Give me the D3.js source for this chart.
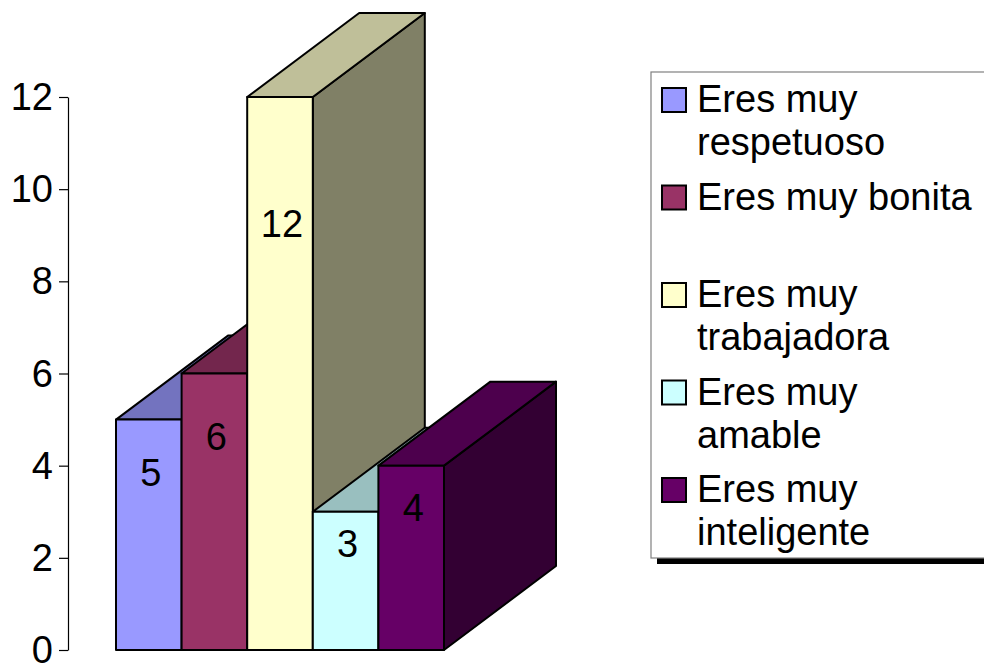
<!DOCTYPE html>
<html>
<head>
<meta charset="utf-8">
<script src="https://cdn.jsdelivr.net/npm/d3@7.9.0/dist/d3.min.js"></script>
<style>
  body { margin: 0; background: #fff; }
  svg { display: block; font-family: "Liberation Sans", Arial, sans-serif; }
</style>
</head>
<body>
<div id="viz"></div>
<script>
// data
const categories = ["Eres muy respetuoso", "Eres muy bonita", "Eres muy trabajadora", "Eres muy amable", "Eres muy inteligente"];
const values = [5, 6, 12, 3, 4];
const barColors = ["#9999FF", "#993366", "#FFFFCC", "#CCFFFF", "#660066"];
const yTicks = [0, 2, 4, 6, 8, 10, 12];

const width = 984;
const height = 667;
const fontSize = 38;

// 3D depth offset of the bars
const depthX = 112;
const depthY = -84;

const svg = d3.select("#viz")
  .append("svg")
  .attr("width", width)
  .attr("height", height);

const x = d3.scaleBand()
  .domain(categories)
  .range([116, 444])
  .paddingInner(0)
  .paddingOuter(0);

const y = d3.scaleLinear()
  .domain([0, 12])
  .range([650, 97]);

// shade a colour like the old 3D charts do (top lighter, side darker)
function shade(c, k) {
  const col = d3.rgb(c);
  return d3.rgb(col.r * k, col.g * k, col.b * k).formatHex();
}

// y axis
const axis = d3.axisLeft(y)
  .tickValues(yTicks)
  .tickSize(9)
  .tickSizeOuter(0)
  .tickPadding(6);

const axisG = svg.append("g")
  .attr("transform", "translate(68,0)")
  .call(axis);

axisG.select(".domain").attr("stroke", "#000").attr("stroke-width", 1.2);
axisG.selectAll(".tick line").attr("stroke", "#000").attr("stroke-width", 1.2);
axisG.selectAll(".tick text")
  .attr("font-size", fontSize)
  .attr("font-family", "Liberation Sans, Arial, sans-serif")
  .attr("dy", "0.33em")
  .attr("fill", "#000");

// bars, drawn left to right so the nearer ones paint over the rest
const bars = categories.map((c, i) => ({ name: c, value: values[i], color: barColors[i] }));
const barLayer = svg.append("g");

bars.forEach(d => {
  const x0 = x(d.name);
  const x1 = x0 + x.bandwidth();
  const yTop = y(d.value);
  const yBot = y(0);
  const g = barLayer.append("g")
    .attr("stroke", "#000")
    .attr("stroke-width", 2)
    .attr("stroke-linejoin", "round");

  // right side
  g.append("polygon")
    .attr("points", [[x1, yTop], [x1 + depthX, yTop + depthY], [x1 + depthX, yBot + depthY], [x1, yBot]].join(" "))
    .attr("fill", shade(d.color, 0.5));

  // top
  g.append("polygon")
    .attr("points", [[x0, yTop], [x0 + depthX, yTop + depthY], [x1 + depthX, yTop + depthY], [x1, yTop]].join(" "))
    .attr("fill", shade(d.color, 0.75));

  // front
  g.append("rect")
    .attr("x", x0)
    .attr("y", yTop)
    .attr("width", x.bandwidth())
    .attr("height", yBot - yTop)
    .attr("fill", d.color);
});

// value labels inside the bars
svg.append("g")
  .selectAll("text")
  .data(bars)
  .join("text")
  .attr("x", d => x(d.name) + x.bandwidth() / 2 + 2)
  .attr("y", d => y(d.value * 0.77))
  .attr("dy", "0.35em")
  .attr("text-anchor", "middle")
  .attr("font-size", fontSize)
  .attr("fill", "#000")
  .text(d => d.value);

// legend
const legendX = 651;
const legendY = 72;
const legendW = 420;
const legendH = 486;
const itemStep = 97.5;
const lineStep = 43;
const wrapWidth = 283;

const legend = svg.append("g");

legend.append("rect")
  .attr("x", legendX + 6)
  .attr("y", legendY + 6)
  .attr("width", legendW)
  .attr("height", legendH)
  .attr("fill", "#000");

legend.append("rect")
  .attr("x", legendX)
  .attr("y", legendY)
  .attr("width", legendW)
  .attr("height", legendH)
  .attr("fill", "#fff")
  .attr("stroke", "#808080")
  .attr("stroke-width", 1.2);

const items = legend.selectAll(".legendItem")
  .data(bars)
  .join("g")
  .attr("class", "legendItem")
  .attr("transform", (d, i) => `translate(${legendX}, ${legendY + 40 + i * itemStep})`);

items.append("rect")
  .attr("x", 11)
  .attr("y", -24)
  .attr("width", 24)
  .attr("height", 24)
  .attr("fill", d => d.color)
  .attr("stroke", "#000")
  .attr("stroke-width", 2);

const labels = items.append("text")
  .attr("x", 46)
  .attr("y", 0)
  .attr("font-size", fontSize)
  .attr("fill", "#000");

// simple word wrap
labels.each(function(d) {
  const t = d3.select(this);
  const words = d.name.split(" ");
  let line = [];
  let tspan = t.append("tspan").attr("x", 46).attr("dy", 0);
  words.forEach(w => {
    line.push(w);
    tspan.text(line.join(" "));
    if (tspan.node().getComputedTextLength() > wrapWidth && line.length > 1) {
      line.pop();
      tspan.text(line.join(" "));
      line = [w];
      tspan = t.append("tspan").attr("x", 46).attr("dy", lineStep).text(w);
    }
  });
});
</script>
</body>
</html>
